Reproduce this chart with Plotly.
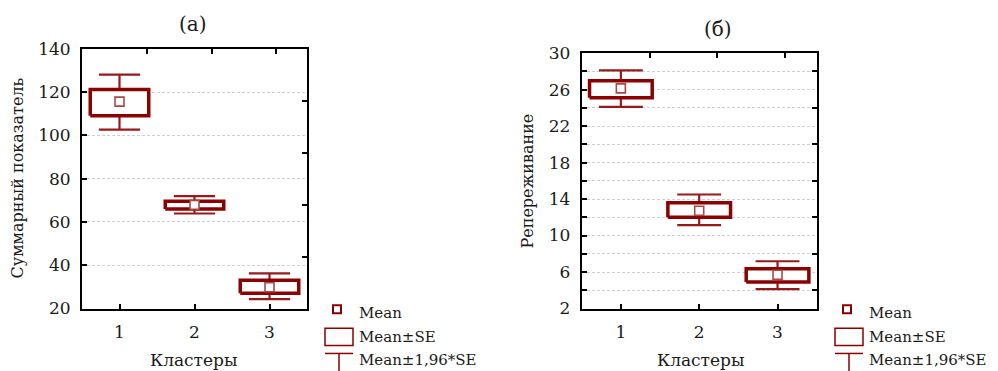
import plotly.graph_objects as go

W, H = 998, 371

clusters = [1, 2, 3]
cluster_labels = ["1", "2", "3"]

# Panel (a): Суммарный показатель
a_mean = [115.6, 67.9, 29.8]
a_se_lo = [109.1, 66.0, 27.1]
a_se_hi = [121.2, 69.6, 33.1]
a_ci_lo = [102.7, 63.9, 24.3]
a_ci_hi = [128.1, 71.9, 36.2]
a_yticks = [20, 40, 60, 80, 100, 120, 140]

# Panel (б): Репереживание
b_mean = [26.14, 12.72, 5.7]
b_se_lo = [25.1, 12.0, 4.9]
b_se_hi = [26.98, 13.6, 6.36]
b_ci_lo = [24.1, 11.15, 4.12]
b_ci_hi = [28.1, 14.5, 7.18]
b_yticks = list(range(2, 31, 2))
b_ylabels = [str(v) if (v - 2) % 4 == 0 else "" for v in b_yticks]

legend_items = ["Mean", "Mean±SE", "Mean±1,96*SE"]

BOX_C = "#8b0000"
WH_C = "#951a1a"
MEAN_C = "#a84848"
FONT = "DejaVu Serif"
TXT = "#1a1a1a"

# vertical calibration of the photographed page
Y_OFF, Y_SC = 10.4, 0.941

def px(x):
    return x / W

def py(y):
    return 1 - ((y - Y_OFF) / Y_SC) / H

fig = go.Figure()

def add_panel(xa, ya, mean, se_lo, se_hi, ci_lo, ci_hi, bw, cw):
    wx, wy = [], []
    for c, lo, hi in zip(clusters, ci_lo, ci_hi):
        wx += [c, c, None, c - cw, c + cw, None, c - cw, c + cw, None]
        wy += [lo, hi, None, lo, lo, None, hi, hi, None]
    fig.add_trace(go.Scatter(x=wx, y=wy, mode="lines", xaxis=xa, yaxis=ya,
                             line=dict(color=WH_C, width=2.2), hoverinfo="skip",
                             showlegend=False))
    for c, lo, hi in zip(clusters, se_lo, se_hi):
        fig.add_trace(go.Scatter(x=[c - bw, c + bw, c + bw, c - bw, c - bw],
                                 y=[lo, lo, hi, hi, lo], mode="lines",
                                 fill="toself", fillcolor="white",
                                 xaxis=xa, yaxis=ya,
                                 line=dict(color=BOX_C, width=3.5),
                                 hoverinfo="skip", showlegend=False))
    fig.add_trace(go.Scatter(x=clusters, y=mean, mode="markers", xaxis=xa, yaxis=ya,
                             marker=dict(symbol="square", size=9, color="white",
                                         line=dict(color=MEAN_C, width=1.6)),
                             showlegend=False))

add_panel("x", "y", a_mean, a_se_lo, a_se_hi, a_ci_lo, a_ci_hi, 0.39, 0.275)
add_panel("x2", "y2", b_mean, b_se_lo, b_se_hi, b_ci_lo, b_ci_hi, 0.40, 0.28)

# dummy traces so overlay tick axes are drawn
for xa, ya in [("x3", "y3"), ("x4", "y4")]:
    fig.add_trace(go.Scatter(x=[None], y=[None], xaxis=xa, yaxis=ya,
                             showlegend=False, hoverinfo="skip"))

a_dom_x = [px(82), px(307)]
a_dom_y = [py(307.3), py(49)]
b_dom_x = [px(581.7), px(816.7)]
b_dom_y = [py(307.3), py(53.3)]

tickfont = dict(family=FONT, size=17, color=TXT)
common_x = dict(range=[0.5, 3.5], tickvals=clusters, ticktext=cluster_labels,
                ticks="inside", ticklen=5, tickwidth=1.5, tickcolor="black",
                showline=True, linecolor="black", linewidth=2, mirror=True,
                showgrid=False, zeroline=False, tickfont=tickfont,
                ticklabelstandoff=7, fixedrange=True)
common_y = dict(ticks="inside", ticklen=5, tickwidth=1.5, tickcolor="black",
                showline=True, linecolor="black", linewidth=2, mirror=True,
                showgrid=True, gridcolor="#cfcfcf", gridwidth=1,
                griddash="3px,2px", zeroline=False, tickfont=tickfont,
                ticklabelstandoff=6, fixedrange=True)

top_ticks = [1.37, 2.23, 3.09]
a_right_ticks = [43.7, 67.7, 91.7, 115.7]
b_right_ticks = [4, 8, 12, 16, 20, 24, 28]

overlay_common = dict(showticklabels=False, ticks="inside", ticklen=5,
                      tickwidth=1.5, tickcolor="black", showgrid=False,
                      zeroline=False, showline=False, fixedrange=True)

fig.update_layout(
    width=W, height=H, margin=dict(l=0, r=0, t=0, b=0),
    paper_bgcolor="white", plot_bgcolor="white", showlegend=False,
    xaxis=dict(domain=a_dom_x, anchor="y", **common_x),
    yaxis=dict(domain=a_dom_y, anchor="x", range=[20, 140], tickvals=a_yticks,
               **common_y),
    xaxis2=dict(domain=b_dom_x, anchor="y2", **common_x),
    yaxis2=dict(domain=b_dom_y, anchor="x2", range=[2, 30], tickvals=b_yticks,
                ticktext=b_ylabels, **common_y),
    xaxis3=dict(overlaying="x", side="top", anchor="y", range=[0.5, 3.5],
                tickvals=top_ticks, **overlay_common),
    yaxis3=dict(overlaying="y", side="right", anchor="x", range=[20, 140],
                tickvals=a_right_ticks, **overlay_common),
    xaxis4=dict(overlaying="x2", side="top", anchor="y2", range=[0.5, 3.5],
                tickvals=top_ticks, **overlay_common),
    yaxis4=dict(overlaying="y2", side="right", anchor="x2", range=[2, 30],
                tickvals=b_right_ticks, **overlay_common),
)

ann = []
shapes = []

def text(x, y, s, size=16, angle=0, xanchor="center"):
    ann.append(dict(x=px(x), y=py(y), xref="paper", yref="paper", text=s,
                    showarrow=False, textangle=angle, xanchor=xanchor,
                    yanchor="middle", font=dict(family=FONT, size=size, color=TXT)))

# titles
text(193, 24, "(a)", size=20)
text(718, 29, "(б)", size=20)
# axis titles
text(18, 178, "Суммарный показатель", size=16, angle=-90)
text(528, 181, "Репереживание", size=16, angle=-90)
text(194, 359, "Кластеры", size=17)
text(701, 359, "Кластеры", size=17)

# legends
for off in [0, 510]:
    shapes.append(dict(type="rect", xref="paper", yref="paper",
                       x0=px(333 + off), x1=px(341 + off), y0=py(312), y1=py(304),
                       line=dict(color=BOX_C, width=2), fillcolor="white"))
    shapes.append(dict(type="rect", xref="paper", yref="paper",
                       x0=px(325 + off), x1=px(353 + off), y0=py(344), y1=py(327),
                       line=dict(color=BOX_C, width=1.5), fillcolor="white"))
    shapes.append(dict(type="line", xref="paper", yref="paper",
                       x0=px(325 + off), x1=px(353 + off), y0=py(352), y1=py(352),
                       line=dict(color=BOX_C, width=1.5)))
    shapes.append(dict(type="line", xref="paper", yref="paper",
                       x0=px(339 + off), x1=px(339 + off), y0=py(352), y1=py(372),
                       line=dict(color=BOX_C, width=1.5)))
    for lbl, yy in zip(legend_items, [312, 336, 359]):
        text(357 + off, yy, lbl, size=15, xanchor="left")

fig.update_layout(annotations=ann, shapes=shapes)

fig.write_html("out.html",
               config={"displayModeBar": False},
               post_script="document.body.style.margin='0';"
                           "document.body.style.overflow='hidden';")
